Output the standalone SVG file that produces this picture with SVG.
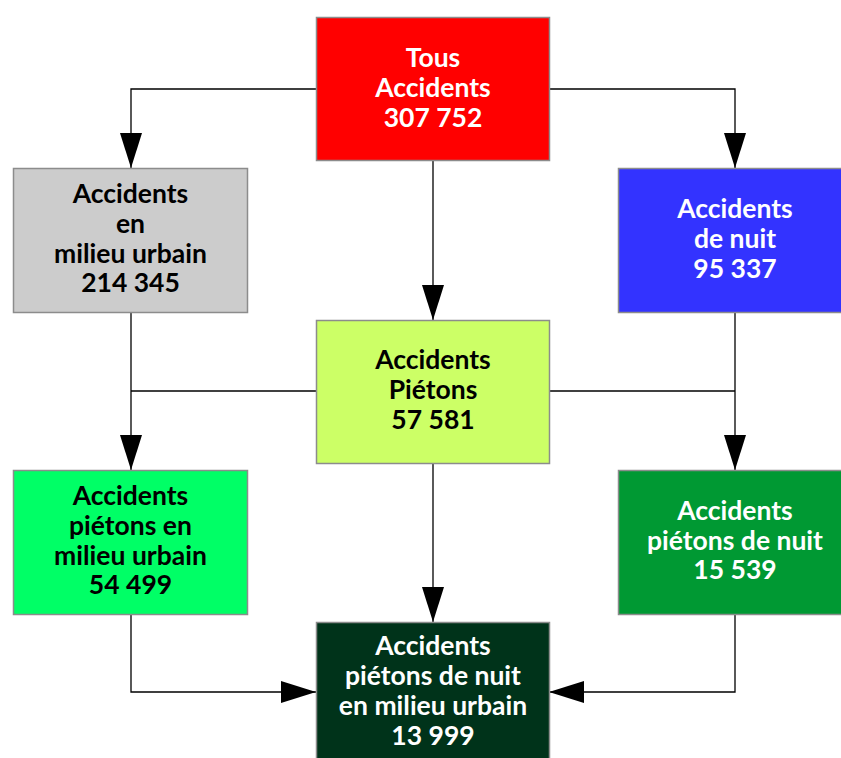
<svg xmlns="http://www.w3.org/2000/svg" width="841" height="758" viewBox="0 0 841 758">
<style>
.box{stroke:#8c8c8c;stroke-width:1.5}
.t{font-family:Lato,"Open Sans","Liberation Sans",sans-serif;font-weight:bold;font-size:26.5px;text-anchor:middle}
.w{fill:#ffffff}
.k{fill:#000000}
.c{fill:none;stroke:#000;stroke-width:1.3}
</style>
<defs>
<marker id="av" viewBox="0 0 35 22" refX="35" refY="11" markerWidth="35" markerHeight="22" markerUnits="userSpaceOnUse" orient="auto">
<path d="M0,0 L35,11 L0,22 Z" fill="#000"/>
</marker>
</defs>
<rect width="841" height="758" fill="#fff"/>
<g id="connectors">
<path class="c" d="M316,89 H131 V168" marker-end="url(#av)"/>
<path class="c" d="M550,89 H735 V168" marker-end="url(#av)"/>
<path class="c" d="M433,161 V320" marker-end="url(#av)"/>
<path class="c" d="M131,313 V470" marker-end="url(#av)"/>
<path class="c" d="M317,391 H131"/>
<path class="c" d="M735,312 V470" marker-end="url(#av)"/>
<path class="c" d="M549,391 H735"/>
<path class="c" d="M433,463 V622" marker-end="url(#av)"/>
<path class="c" d="M131,614 V692 H316" marker-end="url(#av)"/>
<path class="c" d="M735,614 V692 H549" marker-end="url(#av)"/>
</g>
<g id="tous">
<rect class="box" x="316.5" y="17.5" width="233" height="143" fill="#ff0000"/>
<text class="t w" x="433" y="67">Tous</text>
<text class="t w" x="433" y="97">Accidents</text>
<text class="t w" x="433" y="127">307 752</text>
</g>
<g id="urbain">
<rect class="box" x="13.5" y="168.5" width="234" height="144" fill="#cccccc"/>
<text class="t k" x="130.5" y="203">Accidents</text>
<text class="t k" x="130.5" y="233">en</text>
<text class="t k" x="130.5" y="263">milieu urbain</text>
<text class="t k" x="130.5" y="292">214 345</text>
</g>
<g id="nuit">
<rect class="box" x="618.5" y="168.5" width="234" height="144" fill="#3333ff"/>
<text class="t w" x="735" y="218">Accidents</text>
<text class="t w" x="735" y="248">de nuit</text>
<text class="t w" x="735" y="278">95 337</text>
</g>
<g id="pietons">
<rect class="box" x="316.5" y="320.5" width="233" height="143" fill="#ccff66"/>
<text class="t k" x="433" y="369">Accidents</text>
<text class="t k" x="433" y="399">Piétons</text>
<text class="t k" x="433" y="429">57 581</text>
</g>
<g id="pietons-urbain">
<rect class="box" x="13.5" y="470.5" width="234" height="144" fill="#00ff66"/>
<text class="t k" x="130.5" y="505">Accidents</text>
<text class="t k" x="130.5" y="535">piétons en</text>
<text class="t k" x="130.5" y="565">milieu urbain</text>
<text class="t k" x="130.5" y="594">54 499</text>
</g>
<g id="pietons-nuit">
<rect class="box" x="618.5" y="470.5" width="234" height="144" fill="#009933"/>
<text class="t w" x="735" y="520">Accidents</text>
<text class="t w" x="735" y="550">piétons de nuit</text>
<text class="t w" x="735" y="579">15 539</text>
</g>
<g id="pietons-nuit-urbain">
<rect class="box" x="316.5" y="622.5" width="233" height="144" fill="#00331a"/>
<text class="t w" x="433" y="655">Accidents</text>
<text class="t w" x="433" y="685">piétons de nuit</text>
<text class="t w" x="433" y="715">en milieu urbain</text>
<text class="t w" x="433" y="745">13 999</text>
</g>
</svg>
